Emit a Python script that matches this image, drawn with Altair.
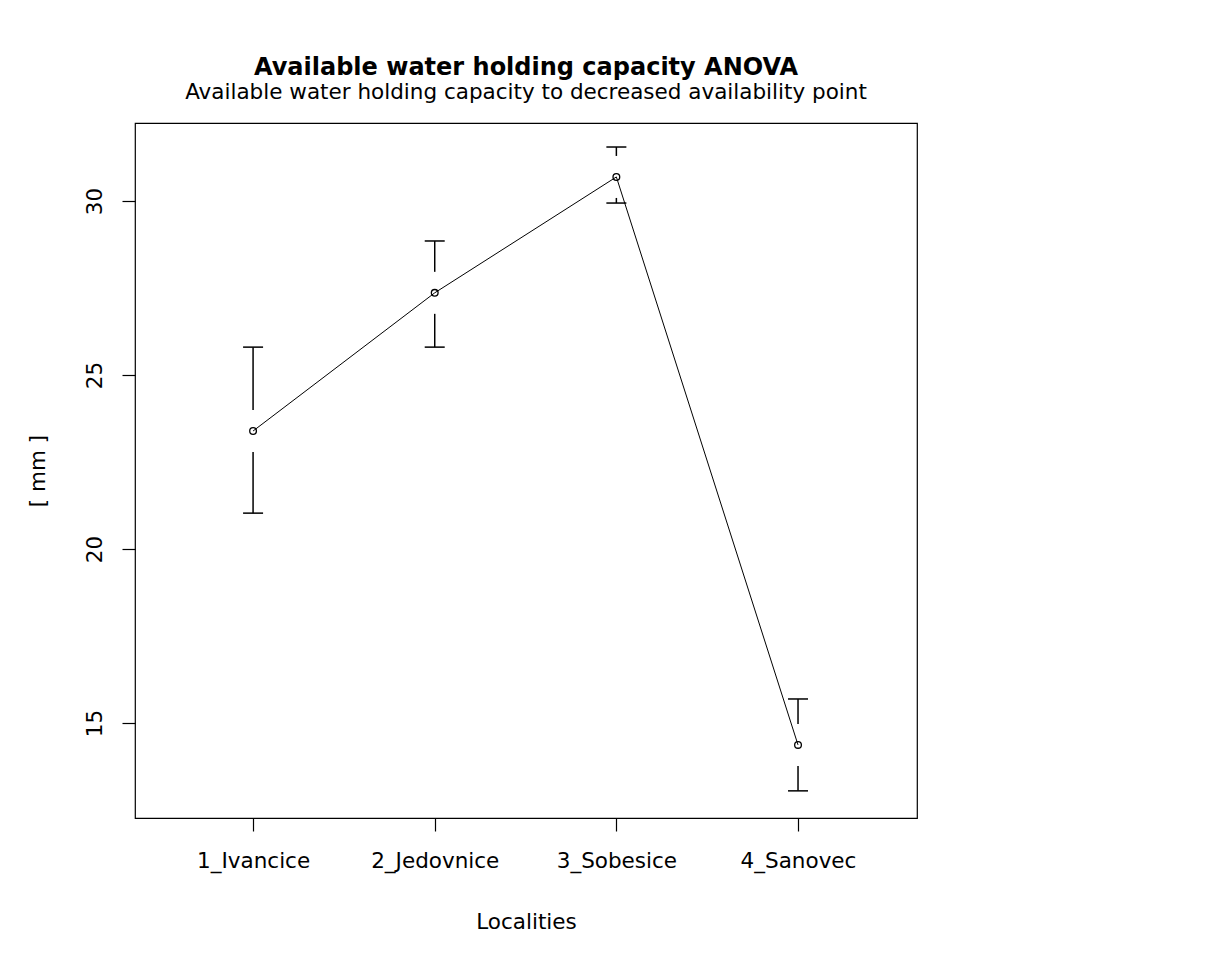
import json
import altair as alt
import pandas as pd

localities = ["1_Ivancice", "2_Jedovnice", "3_Sobesice", "4_Sanovec"]
positions = [1, 2, 3, 4]
means = [23.39, 27.36, 30.69, 14.37]
lower = [21.03, 25.80, 29.94, 13.05]
upper = [25.80, 28.85, 31.55, 15.69]
y_ticks = [15, 20, 25, 30]

df = pd.DataFrame({"pos": positions, "name": localities, "mean": means,
                   "lo": lower, "hi": upper})

FONT = "DejaVu Sans"
label_expr = json.dumps(localities) + "[datum.value - 1]"

xs = alt.Scale(domain=[0.35, 4.655], nice=False, zero=False)
ys = alt.Scale(domain=[12.27, 32.24], nice=False, zero=False)

x_axis = alt.Axis(values=positions, labelExpr=label_expr, title="Localities",
                  grid=False, domain=False,
                  labelPadding=19, labelFontSize=21.5, titleFontSize=21.5,
                  titleBaseline="alphabetic", titleY=110, titleFontWeight="normal",
                  labelFont=FONT, titleFont=FONT)
y_axis = alt.Axis(values=y_ticks, format="d", title="[ mm ]", labelAngle=270,
                  grid=False, domain=False,
                  labelAlign="center", labelBaseline="alphabetic", labelPadding=21,
                  labelFontSize=21.5, titleFontSize=21.5, titleFontWeight="normal",
                  titleBaseline="alphabetic", titleX=-91, titleAngle=270,
                  labelFont=FONT, titleFont=FONT)

base = alt.Chart(df)

line = base.mark_line(color="black", strokeWidth=1).encode(
    x=alt.X("pos:Q", scale=xs, axis=x_axis),
    y=alt.Y("mean:Q", scale=ys, axis=y_axis),
)
pts = base.mark_point(shape="circle", filled=False, color="black", size=45,
                      strokeWidth=1.3, opacity=1).encode(
    x=alt.X("pos:Q", scale=xs), y=alt.Y("mean:Q", scale=ys))
up_stem = base.mark_rule(color="black", strokeWidth=1.5, yOffset=-21).encode(
    x=alt.X("pos:Q", scale=xs), y=alt.Y("mean:Q", scale=ys), y2="hi:Q")
lo_stem = base.mark_rule(color="black", strokeWidth=1.5, yOffset=21).encode(
    x=alt.X("pos:Q", scale=xs), y=alt.Y("mean:Q", scale=ys), y2="lo:Q")
up_cap = base.mark_rule(color="black", strokeWidth=1.5, xOffset=-10, x2Offset=10).encode(
    x=alt.X("pos:Q", scale=xs), x2="pos:Q", y=alt.Y("hi:Q", scale=ys))
lo_cap = base.mark_rule(color="black", strokeWidth=1.5, xOffset=-10, x2Offset=10).encode(
    x=alt.X("pos:Q", scale=xs), x2="pos:Q", y=alt.Y("lo:Q", scale=ys))

chart = alt.layer(line, up_stem, lo_stem, up_cap, lo_cap, pts).properties(
    width=782, height=695,
    background="white",
    title=alt.TitleParams(
        text="Available water holding capacity ANOVA",
        subtitle="Available water holding capacity to decreased availability point",
        font=FONT, fontSize=24, fontWeight="bold", color="black",
        subtitleFont=FONT, subtitleFontSize=21.5, subtitleColor="black",
        anchor="middle", offset=20, subtitlePadding=2,
    ),
    autosize=alt.AutoSizeParams(type="none"),
    padding={"left": 127, "top": 115, "right": 290, "bottom": 135},
).configure_view(stroke="black", strokeWidth=1.2).configure_axis(
    grid=False, domain=False, tickColor="black", tickSize=13, tickWidth=1.2,
    labelColor="black", titleColor="black",
)

chart.save("out.html", embed_options={"renderer": "svg", "actions": False})
